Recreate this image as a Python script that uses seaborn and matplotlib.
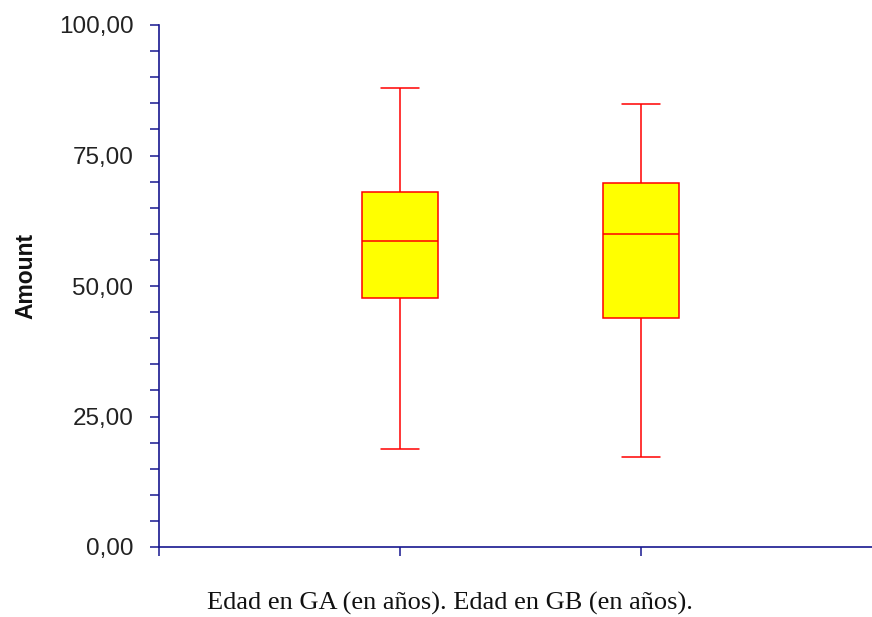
import matplotlib
matplotlib.use("Agg")
import matplotlib.pyplot as plt
import seaborn as sns
import pandas as pd
from matplotlib.ticker import MultipleLocator, FixedLocator

# ---- data (five-number summaries) ----
groups = ["Edad en GA (en años)", "Edad en GB (en años)"]
ga_values = [18.8, 47.7, 58.6, 68.0, 87.9]   # min, Q1, median, Q3, max
gb_values = [17.2, 43.9, 59.9, 69.7, 84.9]
y_ticks = [0, 25, 50, 75, 100]
y_tick_labels = ["0,00", "25,00", "50,00", "75,00", "100,00"]
y_label = "Amount"

df = pd.DataFrame({
    "group": [groups[0]] * len(ga_values) + [groups[1]] * len(gb_values),
    "value": ga_values + gb_values,
})

sns.set_style("white")
plt.rcParams["font.family"] = ["Liberation Sans", "DejaVu Sans"]

navy = "#18188f"
fig = plt.figure(figsize=(8.72, 6.17), dpi=100)
ax = fig.add_axes([159 / 872, 70 / 617, 713 / 872, 522 / 617])

sns.boxplot(data=df, x="group", y="value", ax=ax, width=0.316,
            whis=(0, 100), color="#FFFF00", linecolor="#FF0000",
            saturation=1, linewidth=1.1, showfliers=False)

ax.set_xlim(-1.0, 1.96)
ax.set_ylim(0, 100)

for s in ["top", "right"]:
    ax.spines[s].set_visible(False)
for s in ["left", "bottom"]:
    ax.spines[s].set_color(navy)
    ax.spines[s].set_linewidth(1.2)

ax.yaxis.set_major_locator(FixedLocator(y_ticks))
ax.set_yticklabels(y_tick_labels)
ax.yaxis.set_minor_locator(MultipleLocator(5))
ax.set_xticks([0, 1])
ax.set_xticklabels(["", ""])
ax.set_xticks([-1.0], minor=True)

ax.tick_params(axis="both", which="both", direction="out", length=6.5,
               width=1.1, color=navy, left=True, bottom=True)
ax.tick_params(axis="y", which="major", labelsize=17.5, pad=12,
               labelcolor="#222222")

ax.set_ylabel(y_label, fontsize=16.5, fontweight="bold", color="#111111")
ax.yaxis.set_label_coords(-0.171, 0.519)

ax.set_xlabel(". ".join(groups) + ".", fontsize=19,
              family=["Liberation Serif", "DejaVu Serif"], color="#111111")
ax.xaxis.label.set_va("baseline")
ax.xaxis.set_label_coords(0.4075, -0.1207)

fig.savefig("out.png", dpi=100, facecolor="white")
